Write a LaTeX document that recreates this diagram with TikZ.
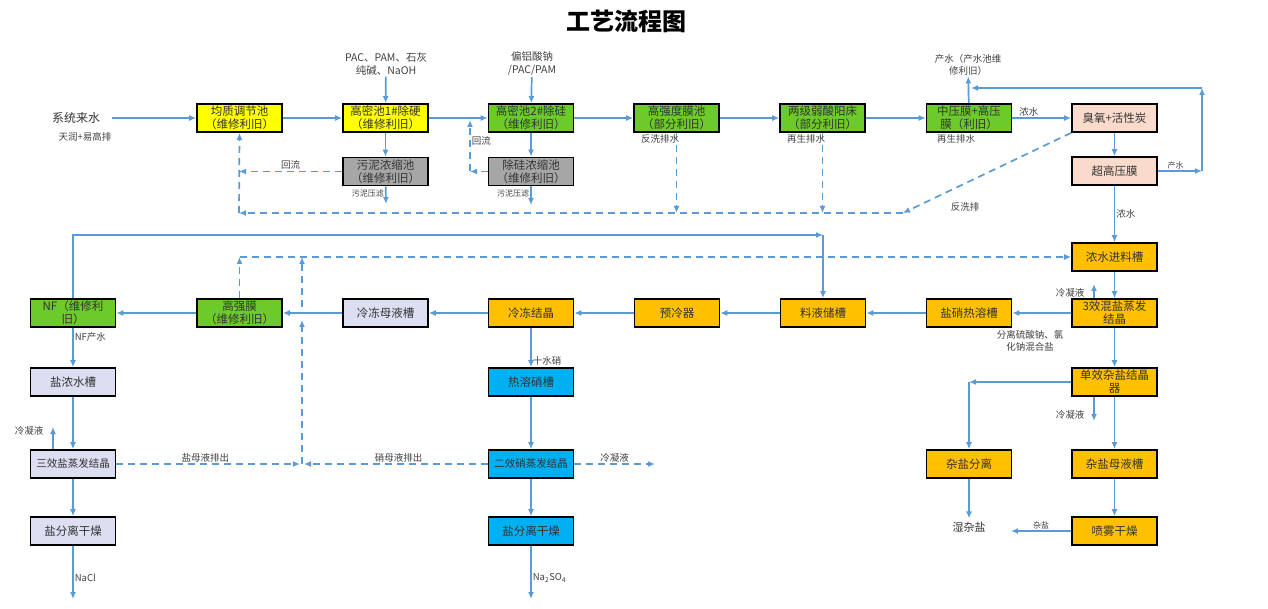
\documentclass[tikz,border=0pt]{standalone}
\usepackage{fontspec}
\setmainfont{Noto Sans CJK SC}
\usetikzlibrary{arrows.meta}
\definecolor{flowblue}{HTML}{5B9BD5}
\definecolor{boxyellow}{HTML}{FFFF00}
\definecolor{boxgreen}{HTML}{6CCB2A}
\definecolor{boxgray}{HTML}{A6A6A6}
\definecolor{boxpeach}{HTML}{FADBCB}
\definecolor{boxlilac}{HTML}{DCDFF2}
\definecolor{boxorange}{HTML}{FFC000}
\definecolor{boxcyan}{HTML}{00B0F0}

\begin{document}
\begin{tikzpicture}[
    x=1pt, y=-1pt,
    unit/.style={draw=black, line width=1.7pt, minimum width=85pt, minimum height=28pt, inner sep=1pt, align=center, font=\fontsize{11.5}{13}\selectfont, text=black!80},
    lbl/.style={font=\fontsize{9.5}{11.5}\selectfont, text=black!75, inner sep=1pt, align=center},
    flow/.style={draw=flowblue, line width=1.7pt, -{Latex[length=7pt,width=6pt]}},
    ret/.style={flow, dash pattern=on 7pt off 5pt}
]
\useasboundingbox (0,0) rectangle (1268,609);

% title
\node[font=\fontsize{24}{28}\selectfont\bfseries] (title) at (626,21) {工艺流程图};

% pretreatment row
\node[unit, fill=boxyellow] (jztj) at (239.5,118) {均质调节池\\（维修利旧）};
\node[unit, fill=boxyellow] (gm1) at (385.5,118) {高密池1\#除硬\\（维修利旧）};
\node[unit, fill=boxgreen] (gm2) at (531,118) {高密池2\#除硅\\（维修利旧）};
\node[unit, fill=boxgreen] (gqd) at (676.5,118) {高强度膜池\\（部分利旧）};
\node[unit, fill=boxgreen] (lrs) at (822.5,118) {两级弱酸阳床\\（部分利旧）};
\node[unit, fill=boxgreen] (zym) at (969,118) {中压膜+高压\\膜（利旧）};
\node[unit, fill=boxpeach] (cy) at (1114.5,118) {臭氧+活性炭};
\node[unit, fill=boxpeach] (cgy) at (1114.5,171) {超高压膜};
\node[unit, fill=boxgray] (wn) at (385.5,171.5) {污泥浓缩池\\（维修利旧）};
\node[unit, fill=boxgray] (cgn) at (531,171.5) {除硅浓缩池\\（维修利旧）};

% evaporation row
\node[unit, fill=boxgreen] (nf) at (73,313) {NF（维修利\\旧）};
\node[unit, fill=boxgreen] (gqm) at (239.5,313) {高强膜\\（维修利旧）};
\node[unit, fill=boxlilac] (ldmy) at (385.5,313) {冷冻母液槽};
\node[unit, fill=boxorange] (ldjj) at (531,313) {冷冻结晶};
\node[unit, fill=boxorange] (ylq) at (677,313) {预冷器};
\node[unit, fill=boxorange] (llcc) at (823,313) {料液储槽};
\node[unit, fill=boxorange] (yxrr) at (969,313) {盐硝热溶槽};
\node[unit, fill=boxorange] (sxh) at (1114.5,313) {3效混盐蒸发\\结晶};
\node[unit, fill=boxorange] (nsjl) at (1114.5,257) {浓水进料槽};

% salt lines
\node[unit, fill=boxlilac] (ynsc) at (73,382) {盐浓水槽};
\node[unit, fill=boxlilac, font=\fontsize{10.5}{12}\selectfont] (sxyz) at (73,464) {三效盐蒸发结晶};
\node[unit, fill=boxlilac] (yfl1) at (73,531) {盐分离干燥};
\node[unit, fill=boxcyan] (rrxc) at (531,382) {热溶硝槽};
\node[unit, fill=boxcyan, font=\fontsize{10.5}{12}\selectfont] (exx) at (531,464) {二效硝蒸发结晶};
\node[unit, fill=boxcyan] (yfl2) at (531,531) {盐分离干燥};
\node[unit, fill=boxorange] (dxz) at (1114.5,382) {单效杂盐结晶\\器};
\node[unit, fill=boxorange] (zyfl) at (969,464) {杂盐分离};
\node[unit, fill=boxorange] (zymy) at (1114.5,464) {杂盐母液槽};
\node[unit, fill=boxorange] (pwgz) at (1114.5,531) {喷雾干燥};

% free labels
\node[font=\fontsize{12}{14}\selectfont, text=black!80] (srcw) at (76,118) {系统来水};
\node[lbl] (srcn) at (85,137) {天润+易高排};
\node[lbl, font=\fontsize{10.5}{13}\selectfont] (chem1) at (386,64) {PAC、PAM、石灰\\纯碱、NaOH};
\node[lbl, font=\fontsize{10.5}{13}\selectfont] (chem2) at (532,64) {偏铝酸钠\\/PAC/PAM};
\node[lbl] (cs) at (968,65) {产水（产水池维\\修利旧）};
\node[font=\fontsize{11}{13}\selectfont, text=black!80] (szy) at (969,527) {湿杂盐};

% junction points
\coordinate (rtop) at (1202,88);
\coordinate (rmid) at (1202,171);
\coordinate (cstop) at (971,88);
\coordinate (wnout) at (386,204);
\coordinate (cgnout) at (531,205);
\coordinate (hl1) at (239,171.5);
\coordinate (hl2a) at (470,171.5);
\coordinate (hl2b) at (470,120);
\coordinate (bkR) at (903,213);
\coordinate (bkL) at (239,213);
\coordinate (nfup) at (73,235);
\coordinate (llup) at (823,235);
\coordinate (dsL) at (239.5,257);
\coordinate (dsM) at (302,257);
\coordinate (jn) at (302,464);
\coordinate (jnA) at (302,320);
\coordinate (jnB) at (302,307);
\coordinate (lnA) at (1094,284);
\coordinate (lnB) at (53,427);
\coordinate (lnC) at (1094,421);
\coordinate (lnD) at (655,464);
\coordinate (nacl) at (73,599);
\coordinate (nass) at (531,599);
\coordinate (zyc) at (969,382);
\coordinate (zyout) at (1011,531);

% main water line
\draw[flow, shorten <=8pt] (srcw) -- (jztj);
\draw[flow] (chem1) -- (gm1);
\draw[flow] (chem2) -- (gm2);
\draw[flow] (jztj) -- (gm1);
\draw[flow] (gm1) -- (gm2);
\draw[flow] (gm2) -- (gqd);
\draw[flow] (gqd) -- (lrs);
\draw[flow] (lrs) -- (zym);
\draw[flow] (zym) -- (cy) node[pos=0.28, above, lbl] {浓水};
\draw[flow] (zym) -- (cs);
\draw[flow] (cy) -- (cgy);
\draw[flow] (cgy) -- (rmid) node[pos=0.4, above, lbl, font=\fontsize{8}{9}\selectfont] {产水};
\draw[flow] (rmid) -- (rtop);
\draw[flow] (rtop) -- (cstop);
\draw[flow] (cgy) -- (nsjl) node[midway, right, lbl] {浓水};
\draw[flow] (gm1) -- (wn);
\draw[flow] (gm2) -- (cgn);
\draw[flow] (wn) -- (wnout) node[pos=0.4, left, lbl, font=\fontsize{8}{9}\selectfont] {污泥压滤};
\draw[flow] (cgn) -- (cgnout) node[pos=0.4, left, lbl, font=\fontsize{8}{9}\selectfont] {污泥压滤};

% returns and drains
\draw[ret] (wn) -- (hl1) node[midway, above, lbl] {回流};
\draw[ret] (cgn) -- (hl2a);
\draw[ret] (hl2a) -- (hl2b) node[pos=0.6, right, lbl] {回流};
\draw[ret] (cy.south west) -- (bkR);
\draw[ret] (bkR) -- (bkL);
\draw[ret] (bkL) -- (jztj.south);
\draw[ret] (gqd.south) -- (gqd.south |- bkR);
\draw[ret] (lrs.south) -- (lrs.south |- bkR);
\node[lbl] (fxps) at (660,139) {反洗排水};
\node[lbl] (zsps1) at (806,139) {再生排水};
\node[lbl] (zsps2) at (956,139) {再生排水};
\node[lbl] (fxp) at (965,207) {反洗排};

% concentrate treatment
\draw[flow] (nf) -- (nfup) -- (llup);
\draw[flow] (llup) -- (llcc);
\draw[flow] (nsjl) -- (sxh);
\draw[flow] (sxh.north -| lnA) -- (lnA);
\node[lbl] (lny1) at (1070,293) {冷凝液};
\draw[flow] (sxh) -- (yxrr);
\node[lbl] (fl) at (1030,341) {分离硫酸钠、氯\\化钠混合盐};
\draw[flow] (yxrr) -- (llcc);
\draw[flow] (llcc) -- (ylq);
\draw[flow] (ylq) -- (ldjj);
\draw[flow] (ldjj) -- (ldmy);
\draw[flow] (ldmy) -- (gqm);
\draw[flow] (gqm) -- (nf);
\draw[ret] (gqm) -- (dsL);
\draw[ret] (dsL) -- (nsjl);
\draw[ret] (jn) -- (jnA);
\draw[ret] (jnB) -- (dsM);

% NaCl line
\draw[flow] (nf) -- (ynsc) node[pos=0.22, right, lbl] {NF产水};
\draw[flow] (ynsc) -- (sxyz);
\draw[flow] (sxyz.north -| lnB) -- (lnB);
\node[lbl] (lny2) at (29,431) {冷凝液};
\draw[flow] (sxyz) -- (yfl1);
\draw[flow] (yfl1) -- (nacl) node[pos=0.6, right, lbl] {NaCl};
\draw[ret, shorten >=2pt] (sxyz) -- (jn) node[pos=0.48, above, lbl] {盐母液排出};

% Na2SO4 line
\draw[flow] (ldjj) -- (rrxc) node[pos=0.85, right, lbl] {十水硝};
\draw[flow] (rrxc) -- (exx);
\draw[flow] (exx) -- (yfl2);
\draw[flow] (yfl2) -- (nass) node[pos=0.6, right, lbl] {Na\textsubscript{2}SO\textsubscript{4}};
\draw[ret, shorten >=2pt] (exx) -- (jn) node[pos=0.48, above, lbl] {硝母液排出};
\draw[ret] (exx) -- (lnD) node[midway, above, lbl] {冷凝液};

% mixed salt line
\draw[flow] (sxh) -- (dxz);
\draw[flow] (dxz) -- (zyc);
\draw[flow] (zyc) -- (zyfl);
\draw[flow] (dxz.south -| lnC) -- (lnC);
\node[lbl] (lny3) at (1070,415) {冷凝液};
\draw[flow] (dxz) -- (zymy);
\draw[flow] (zymy) -- (pwgz);
\draw[flow] (zyfl) -- (szy);
\draw[flow] (pwgz) -- (zyout) node[midway, above, lbl, font=\fontsize{8}{9}\selectfont] {杂盐};

\end{tikzpicture}
\end{document}
